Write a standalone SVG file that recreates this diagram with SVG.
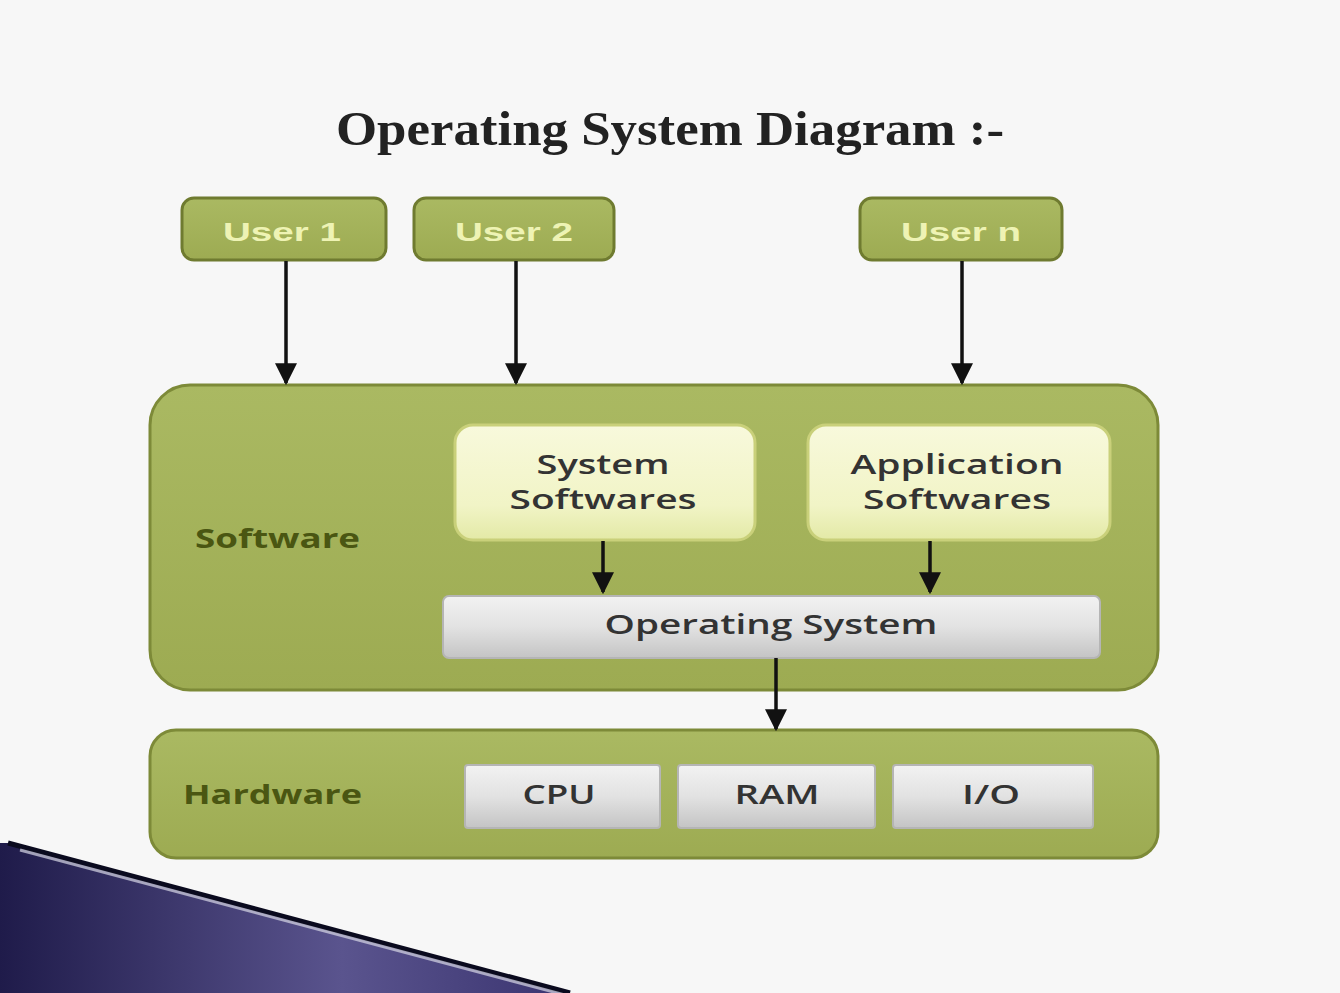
<svg xmlns="http://www.w3.org/2000/svg" width="1340" height="993" viewBox="0 0 1340 993">
<defs>
<linearGradient id="olive" x1="0" y1="0" x2="0" y2="1">
<stop offset="0" stop-color="#aab962"/><stop offset="1" stop-color="#9dab52"/>
</linearGradient>
<linearGradient id="cream" x1="0" y1="0" x2="0" y2="1">
<stop offset="0" stop-color="#f8f9dc"/><stop offset="0.7" stop-color="#f1f4c6"/><stop offset="1" stop-color="#e3e9a6"/>
</linearGradient>
<linearGradient id="gray" x1="0" y1="0" x2="0" y2="1">
<stop offset="0" stop-color="#f2f2f2"/><stop offset="0.5" stop-color="#e2e2e2"/><stop offset="1" stop-color="#c4c4c4"/>
</linearGradient>
<linearGradient id="navy" x1="0" y1="0" x2="1" y2="0">
<stop offset="0" stop-color="#1f1b4a"/><stop offset="0.6" stop-color="#5a548e"/><stop offset="1" stop-color="#3a3470"/>
</linearGradient>
<marker id="ahb" viewBox="0 0 10 10" refX="9" refY="5" markerWidth="22" markerHeight="22" orient="auto" markerUnits="userSpaceOnUse">
<path d="M0,0 L10,5 L0,10 z" fill="#111"/>
</marker>
</defs>
<style>
.olive{fill:url(#olive);stroke:#7d8a38;stroke-width:3}
.user{fill:url(#olive);stroke:#6f7b30;stroke-width:3}
.cream{fill:url(#cream);stroke:#c9d07a;stroke-width:3}
.gray{fill:url(#gray);stroke:#b5b5b5;stroke-width:2}
text{}
.ut{font-family:"Liberation Sans",Arial,sans-serif;font-size:26px;font-weight:bold;fill:#eef3b4;text-anchor:middle}
.lbl{font-family:"Open Sans","Liberation Sans",sans-serif;font-size:27px;font-weight:bold;fill:#4a5612}
.bt{font-family:"Open Sans","Liberation Sans",sans-serif;font-size:27px;font-weight:600;fill:#333;text-anchor:middle}
.conn{stroke:#111;stroke-width:3.5;fill:none;marker-end:url(#ahb)}
</style>
<rect x="0" y="0" width="1340" height="993" fill="#f7f7f7"/>
<text x="670" y="145" font-family="'Liberation Serif','DejaVu Serif',serif" font-size="48" font-weight="bold" fill="#222" text-anchor="middle" textLength="668" lengthAdjust="spacingAndGlyphs">Operating System Diagram :-</text>

<g id="user1"><rect class="user" x="182" y="198" width="204" height="62" rx="12"/><text class="ut" x="282" y="241" textLength="118" lengthAdjust="spacingAndGlyphs">User 1</text></g>
<g id="user2"><rect class="user" x="414" y="198" width="200" height="62" rx="12"/><text class="ut" x="514" y="241" textLength="118" lengthAdjust="spacingAndGlyphs">User 2</text></g>
<g id="usern"><rect class="user" x="860" y="198" width="202" height="62" rx="12"/><text class="ut" x="961" y="241" textLength="120" lengthAdjust="spacingAndGlyphs">User n</text></g>

<g id="software">
<rect class="olive" x="150" y="385" width="1008" height="305" rx="40"/>
<text class="lbl" x="195" y="548" textLength="165" lengthAdjust="spacingAndGlyphs">Software</text>
</g>
<g id="system-softwares"><rect class="cream" x="455" y="425" width="300" height="115" rx="18"/><text class="bt" x="603" y="474" textLength="133" lengthAdjust="spacingAndGlyphs">System</text><text class="bt" x="603" y="509" textLength="187" lengthAdjust="spacingAndGlyphs">Softwares</text></g>
<g id="application-softwares"><rect class="cream" x="808" y="425" width="302" height="115" rx="18"/><text class="bt" x="957" y="474" textLength="213" lengthAdjust="spacingAndGlyphs">Application</text><text class="bt" x="957" y="509" textLength="188" lengthAdjust="spacingAndGlyphs">Softwares</text></g>
<g id="operating-system"><rect class="gray" x="443" y="596" width="657" height="62" rx="6"/><text class="bt" x="771" y="634" textLength="333" lengthAdjust="spacingAndGlyphs">Operating System</text></g>

<g id="hardware">
<rect class="olive" x="150" y="730" width="1008" height="128" rx="26"/>
<text class="lbl" x="183" y="804" textLength="179" lengthAdjust="spacingAndGlyphs">Hardware</text>
</g>
<g id="cpu"><rect class="gray" x="465" y="765" width="195" height="63" rx="3"/><text class="bt" x="559" y="804" textLength="73" lengthAdjust="spacingAndGlyphs">CPU</text></g>
<g id="ram"><rect class="gray" x="678" y="765" width="197" height="63" rx="3"/><text class="bt" x="777" y="804" textLength="85" lengthAdjust="spacingAndGlyphs">RAM</text></g>
<g id="io"><rect class="gray" x="893" y="765" width="200" height="63" rx="3"/><text class="bt" x="991" y="804" textLength="58" lengthAdjust="spacingAndGlyphs">I/O</text></g>

<g id="connectors">
<line class="conn" x1="286" y1="261" x2="286" y2="383"/>
<line class="conn" x1="516" y1="261" x2="516" y2="383"/>
<line class="conn" x1="962" y1="261" x2="962" y2="383"/>
<line class="conn" x1="603" y1="541" x2="603" y2="592"/>
<line class="conn" x1="930" y1="541" x2="930" y2="592"/>
<line class="conn" x1="776" y1="658" x2="776" y2="729"/>
</g>

<polygon points="8,843 570,993 0,993 0,843" fill="url(#navy)"/>
<line x1="8" y1="843" x2="570" y2="993" stroke="#0a0a1e" stroke-width="5"/>
<line x1="20" y1="850" x2="580" y2="999" stroke="#d8d8e6" stroke-width="3" opacity="0.7"/>
</svg>
